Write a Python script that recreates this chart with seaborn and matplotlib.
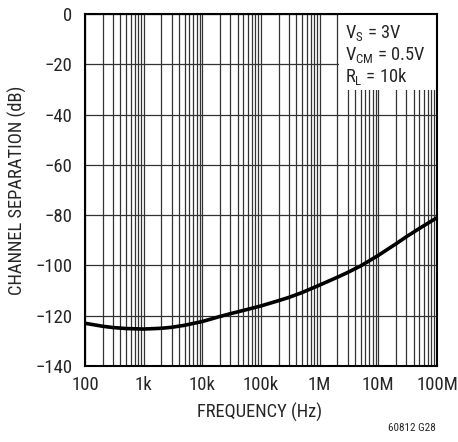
import matplotlib
matplotlib.use("Agg")
import matplotlib.pyplot as plt
import seaborn as sns
import numpy as np
import pandas as pd
from matplotlib.ticker import FixedLocator, NullFormatter
from matplotlib.patches import Rectangle

freq_hz = [100, 200, 300, 500, 1e3, 2e3, 3e3, 5e3, 1e4, 2e4, 3e4, 5e4, 1e5, 2e5, 3e5, 5e5,
           1e6, 2e6, 3e6, 5e6, 1e7, 2e7, 3e7, 5e7, 1e8]
separation_db = [-123.0, -124.2, -124.7, -125.1, -125.3, -125.0, -124.6, -123.8, -122.3, -120.3,
                 -119.2, -117.9, -116.1, -114.0, -112.7, -110.8, -107.8, -104.7, -102.8,
                 -100.2, -96.0, -91.4, -88.6, -85.3, -81.0]
x_ticks = [1e2, 1e3, 1e4, 1e5, 1e6, 1e7, 1e8]
x_tick_labels = ["100", "1k", "10k", "100k", "1M", "10M", "100M"]
y_ticks = [0, -20, -40, -60, -80, -100, -120, -140]
annotation_lines = [r"V$_\mathregular{S}$ = 3V", r"V$_\mathregular{CM}$ = 0.5V", r"R$_\mathregular{L}$ = 10k"]

sns.set_style("white")
plt.rcParams["font.family"] = ["Liberation Sans Narrow", "Roboto Condensed", "Archivo Narrow",
                               "Liberation Sans", "DejaVu Sans"]
plt.rcParams["axes.unicode_minus"] = True

df = pd.DataFrame({"freq": freq_hz, "sep": separation_db})

W, H = 458, 442
fig = plt.figure(figsize=(W / 100, H / 100), dpi=100)
ax = fig.add_axes([85 / W, 1 - 366 / H, 352 / W, 352 / H])

ax.set_xscale("log")
ax.set_xlim(1e2, 1e8)
ax.set_ylim(-140, 0)

# grid
minor = [m * 10 ** e for e in range(2, 8) for m in range(2, 10)]
for v in minor + x_ticks:
    ax.axvline(v, color="#333333", lw=0.9, zorder=1)
for v in y_ticks:
    ax.axhline(v, color="#333333", lw=0.9, zorder=1)

sns.lineplot(data=df, x="freq", y="sep", ax=ax, color="black", lw=2.6, zorder=5)

ax.xaxis.set_major_locator(FixedLocator(x_ticks))
ax.xaxis.set_minor_locator(FixedLocator(minor))
ax.xaxis.set_minor_formatter(NullFormatter())
ax.set_xticklabels(x_tick_labels)
ax.set_yticks(y_ticks)
ax.tick_params(axis="x", which="both", length=0, labelsize=13.5, pad=7)
ax.tick_params(axis="y", which="both", length=0, labelsize=13.5, pad=9)

ax.set_xlabel("FREQUENCY (Hz)", fontsize=13.3)
ax.set_ylabel("CHANNEL SEPARATION (dB)", fontsize=13.3)
ax.xaxis.label.set_va("center")
ax.yaxis.label.set_va("center")
ax.xaxis.set_label_coords((260 - 85) / 352, (366 - 412) / 352)
ax.yaxis.set_label_coords((17 - 85) / 352, 0.5)

for s in ax.spines.values():
    s.set_color("black")
    s.set_linewidth(1.5)
    s.set_zorder(10)

# white annotation box
ax.add_patch(Rectangle(((339 - 85) / 352, (366 - 90) / 352), 1 - (339 - 85) / 352, (90 - 14) / 352,
                       transform=ax.transAxes, facecolor="white", edgecolor="none", zorder=7))
for i, line in enumerate(annotation_lines):
    base_px = 38 + i * 22
    ax.text((345 - 85) / 352, (366 - base_px) / 352, line, transform=ax.transAxes,
            ha="left", va="baseline", fontsize=13.3, zorder=8)

fig.text(436 / W, 1 - 428 / H, "60812 G28", fontsize=8, ha="right", va="center")

fig.savefig("out.png", dpi=100)
